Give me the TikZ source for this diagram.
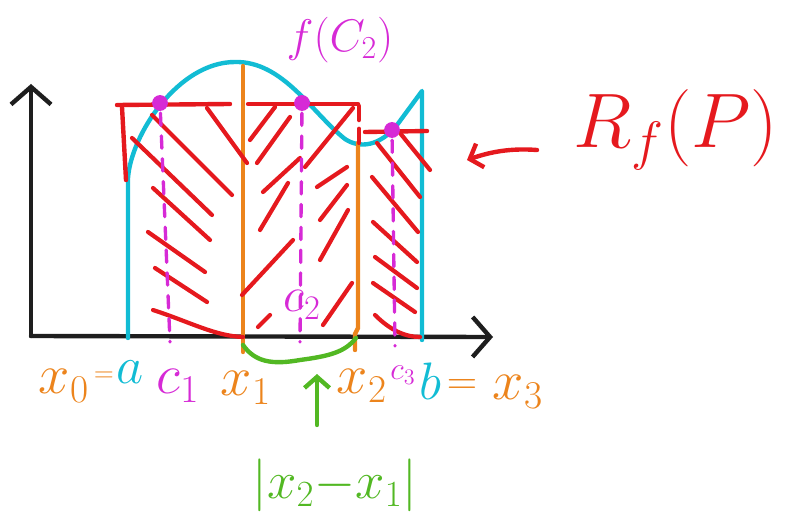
\documentclass[tikz,border=0pt]{standalone}
\usepackage{fix-cm}
\usetikzlibrary{arrows.meta, positioning, calc}
\definecolor{cink}{HTML}{1E1E1E}
\definecolor{ccyan}{HTML}{12BCD4}
\definecolor{corange}{HTML}{EC841C}
\definecolor{cred}{HTML}{E5191E}
\definecolor{cmagenta}{HTML}{D62AD6}
\definecolor{cgreen}{HTML}{52B823}
\tikzset{
  every picture/.style={line width=2.5pt, line cap=round, line join=round},
  pen/.style={draw=#1, line width=2.5pt},
  hatch/.style={draw=cred, line width=2.4pt},
  tagline/.style={draw=cmagenta, line width=1.9pt, dash pattern=on 7pt off 6pt},
  lbl/.style={text=#1, inner sep=0pt, font=\fontsize{32}{32}\selectfont},
  small/.style={font=\fontsize{#1}{#1}\selectfont},
  tagdot/.style={circle, fill=cmagenta, inner sep=0pt, minimum size=9pt},
  tip/.style={-{Straight Barb[length=3.5mm, width=8mm]}},
  smalltip/.style={-{Straight Barb[length=2.2mm, width=5mm]}},
}

\begin{document}
\begin{tikzpicture}[x=0.02cm, y=-0.02cm]
  \useasboundingbox (0,0) rectangle (786,520);
  % axes
  \coordinate (O) at (31,336);
  \coordinate (ytop) at (31,84);
  \coordinate (xend) at (493,337);
  \draw[pen=cink, tip] (O) -- (ytop);
  \draw[pen=cink, tip] (O) -- (xend);
  % the function
  \draw[pen=ccyan] (128,338) -- (128,178) .. controls (131,135) and (178,62) .. (235,62)
    .. controls (283,61) and (312,113) .. (345,139) .. controls (360,149) and (380,146) .. (397,125)
    -- (422,91) -- (422,340);
  % partition points
  \draw[pen=corange] (243,66) -- (243,352);
  \draw[pen=corange] (358,143) -- (358,328) -- (355,334) -- (355,350);
  % rectangle tops
  \draw[pen=cred] (117,105) -- (230,104);
  \draw[pen=cred] (248,104) -- (358,104);
  \draw[pen=cred] (365,132) -- (427,131);
  \draw[pen=cred] (122,107) -- (126,180);
  \draw[pen=cred, dash pattern=on 8pt off 5pt] (359,106) -- (359,145);
  % shading
  \foreach \xa/\ya/\xb/\yb in {152/115/232/195, 207/108/247/163, 132/138/212/215, 153/188/210/240,
      148/232/205/272, 155/268/207/302, 250/140/275/107, 257/163/290/117, 263/192/300/158,
      260/230/288/183, 242/295/293/240, 305/167/353/108, 317/187/347/167, 320/220/347/185,
      320/260/348/210, 323/325/352/283, 258/327/270/315, 377/143/420/197, 400/133/430/170,
      372/177/418/232, 373/222/417/262, 375/257/417/288, 373/283/415/312}
    \draw[hatch] (\xa,\ya) -- (\xb,\yb);
  \draw[hatch] (153,310) .. controls (190,322) and (215,336) .. (243,337);
  \draw[hatch] (375,315) .. controls (390,330) and (405,337) .. (420,337);
  % sample points
  \node[tagdot] (d1) at (160,103) {};
  \node[tagdot] (d2) at (302,103) {};
  \node[tagdot] (d3) at (392,130) {};
  \coordinate (c1foot) at (170,342);
  \coordinate (c2foot) at (300,342);
  \coordinate (c3foot) at (395,346);
  \draw[tagline] (d1) -- (c1foot);
  \draw[tagline] (d2) -- (c2foot);
  \draw[tagline] (d3) -- (c3foot);
  \node[lbl=cmagenta, small=26] (fc2) at (340,40) {$f(C_2)$};
  \node[lbl=cmagenta, small=28] (c2lbl) at (302,305) {$c_2$};
  % labels under the axis
  \node[lbl=corange] (x0) at (64,386) {$x_0$};
  \node[lbl=corange, small=15] (eqa) at (104,377) {$=$};
  \node[lbl=ccyan, small=30] (alb) at (130,372) {$a$};
  \node[lbl=cmagenta, small=32] (c1lbl) at (178,386) {$c_1$};
  \node[lbl=corange] (x1) at (246,388) {$x_1$};
  \node[lbl=corange] (x2) at (362,386) {$x_2$};
  \node[lbl=cmagenta, small=18] (c3lbl) at (403,375) {$c_3$};
  \node[lbl=ccyan, small=30] (blb) at (430,381) {$b$};
  \node[lbl=corange, small=24] (eqb) at (462,387) {$=$};
  \node[lbl=corange] (x3) at (518,392) {$x_3$};
  % width of the middle piece
  \draw[pen=cgreen] (243,345) .. controls (255,362) and (272,365) .. (300,360)
    .. controls (330,356) and (345,352) .. (356,338);
  \coordinate (wtail) at (317,425);
  \coordinate (wtip) at (317,374);
  \draw[pen=cgreen, smalltip] (wtail) -- (wtip);
  \node[lbl=cgreen, small=30] (wlbl) at (335,485) {$|x_2{-}x_1|$};
  % the sum
  \node[lbl=cred, small=44] (rsum) at (676,130) {$R_f(P)$};
  \coordinate (rtail) at (537,150);
  \coordinate (rtip) at (467,160);
  \draw[pen=cred, smalltip] (rtail) .. controls (510,148) and (490,152) .. (rtip);
\end{tikzpicture}
\end{document}
